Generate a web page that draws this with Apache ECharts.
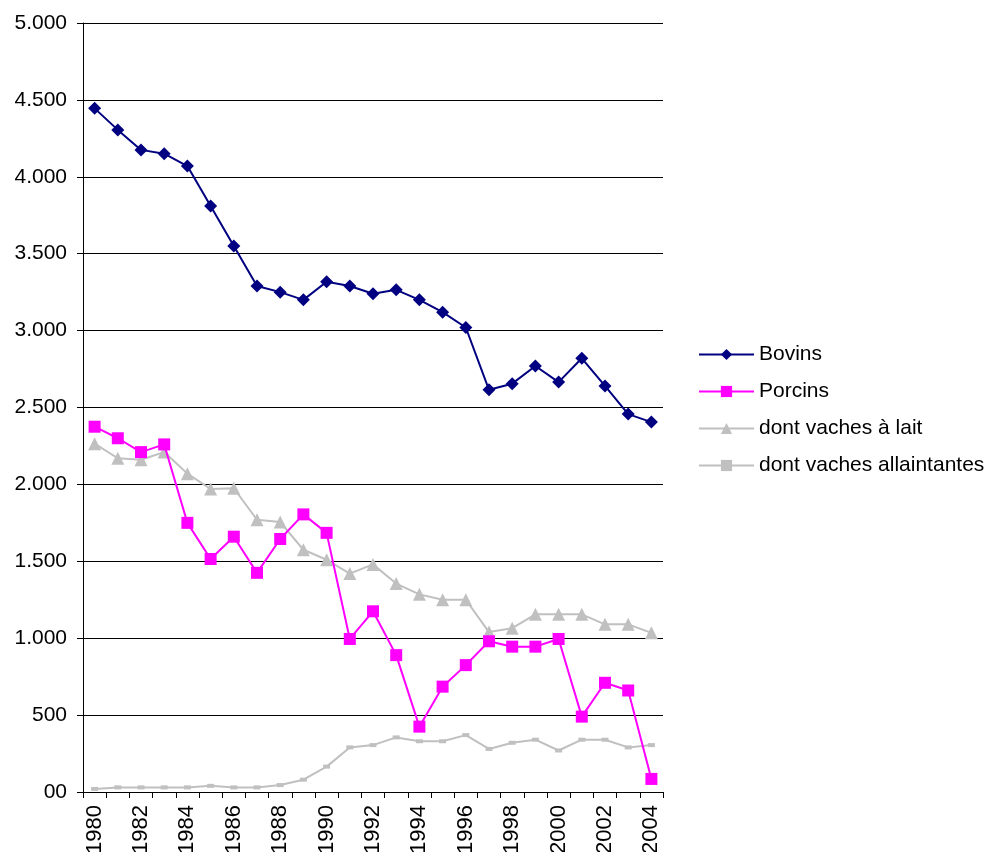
<!DOCTYPE html>
<html>
<head>
<meta charset="utf-8">
<script src="https://cdn.jsdelivr.net/npm/echarts@6/dist/echarts.min.js"></script>
<style>
  html, body { margin: 0; padding: 0; background: #fff; }
  #chart { width: 988px; height: 852px; }
</style>
</head>
<body>
<div id="chart"></div>
<script>
// Years on the horizontal axis
const years = ['1980','1981','1982','1983','1984','1985','1986','1987','1988','1989',
  '1990','1991','1992','1993','1994','1995','1996','1997','1998','1999',
  '2000','2001','2002','2003','2004'];

// Livestock counts per year
const bovins = [4445, 4305, 4175, 4150, 4070, 3810, 3550, 3290, 3250, 3200,
  3318, 3290, 3240, 3265, 3200, 3120, 3020, 2615, 2655, 2770,
  2665, 2820, 2640, 2457, 2405];
const porcins = [2375, 2300, 2210, 2260, 1750, 1515, 1660, 1425, 1645, 1805,
  1685, 995, 1175, 890, 425, 685, 825, 980, 945, 945,
  995, 490, 710, 660, 85];
const vachesLait = [2265, 2170, 2160, 2210, 2070, 1970, 1975, 1770, 1755, 1575,
  1510, 1420, 1480, 1355, 1285, 1250, 1250, 1040, 1065, 1155,
  1155, 1155, 1090, 1090, 1035];
const vachesAllaitantes = [20, 30, 30, 30, 30, 40, 30, 30, 45, 80,
  165, 290, 305, 355, 330, 330, 370, 280, 320, 340,
  270, 340, 340, 290, 305];

// Value-axis tick labels, one per 500 step
const yTickLabels = ['00', '500', '1.000', '1.500', '2.000', '2.500',
  '3.000', '3.500', '4.000', '4.500', '5.000'];

const FONT = "'Liberation Sans', Arial, sans-serif";

const chart = echarts.init(document.getElementById('chart'), null, { renderer: 'canvas' });

chart.setOption({
  animation: false,
  backgroundColor: '#ffffff',
  textStyle: { fontFamily: FONT },
  grid: {
    left: 83, right: 325, top: 23, bottom: 60,
    containLabel: false,
    outerBoundsMode: 'none'
  },
  legend: {
    orient: 'vertical',
    left: 693,
    top: 339,
    itemWidth: 55,
    itemHeight: 14,
    itemGap: 16,
    textStyle: { fontFamily: FONT, fontSize: 21, color: '#000' },
    data: ['Bovins', 'Porcins', 'dont vaches à lait', 'dont vaches allaintantes']
  },
  xAxis: {
    type: 'category',
    data: years,
    boundaryGap: true,
    axisLine: { show: true, lineStyle: { color: '#000', width: 1 } },
    axisTick: { show: true, interval: 0, length: 6, lineStyle: { color: '#000' } },
    axisLabel: {
      interval: 1,
      rotate: 90,
      fontSize: 22,
      color: '#000',
      fontFamily: FONT,
      margin: 13
    },
    splitLine: { show: false }
  },
  yAxis: {
    type: 'value',
    min: 0,
    max: 5000,
    interval: 500,
    axisLine: { show: true, lineStyle: { color: '#000', width: 1 } },
    axisTick: { show: true, length: 6, lineStyle: { color: '#000' } },
    axisLabel: {
      fontSize: 21,
      color: '#000',
      fontFamily: FONT,
      margin: 16,
      formatter: function (v) { return yTickLabels[Math.round(v / 500)]; }
    },
    splitLine: { show: true, lineStyle: { color: '#000', width: 1 } }
  },
  series: [
    {
      name: 'Bovins',
      type: 'line',
      data: bovins,
      symbol: 'diamond',
      symbolSize: 13,
      itemStyle: { color: '#000080' },
      lineStyle: { color: '#000080', width: 2 },
      z: 5
    },
    {
      name: 'Porcins',
      type: 'line',
      data: porcins,
      symbol: 'rect',
      symbolSize: 12,
      itemStyle: { color: '#ff00ff' },
      lineStyle: { color: '#ff00ff', width: 2 },
      z: 4
    },
    {
      name: 'dont vaches à lait',
      type: 'line',
      data: vachesLait,
      symbol: 'triangle',
      symbolSize: 13,
      itemStyle: { color: '#c0c0c0' },
      lineStyle: { color: '#c0c0c0', width: 2 },
      z: 3
    },
    {
      name: 'dont vaches allaintantes',
      type: 'line',
      data: vachesAllaitantes,
      symbol: 'rect',
      symbolSize: [7, 4],
      itemStyle: { color: '#c0c0c0' },
      lineStyle: { color: '#c0c0c0', width: 2 },
      z: 2
    }
  ]
});
</script>
</body>
</html>
